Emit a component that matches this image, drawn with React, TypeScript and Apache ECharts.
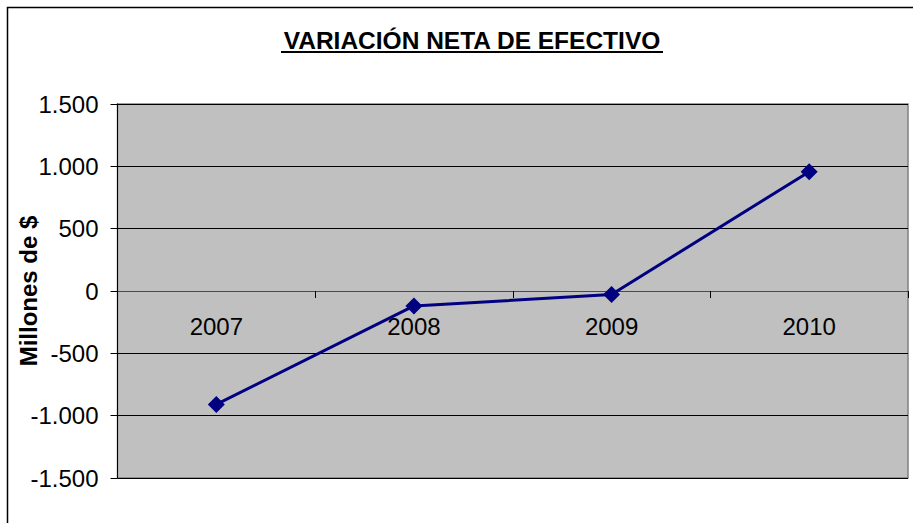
import React, { useEffect, useRef } from "react";
import * as echarts from "echarts";

const categories = ["2007", "2008", "2009", "2010"];
const values = [-910, -120, -28, 957];
const yMin = -1500;
const yMax = 1500;
const yStep = 500;
const titleText = "VARIACIÓN NETA DE EFECTIVO";
const yTitle = "Millones de $";

const fmt = (v: number) => {
  const s = Math.abs(v).toString().replace(/\B(?=(\d{3})+(?!\d))/g, ".");
  return (v < 0 ? "-" : "") + s;
};

const FONT = "'Liberation Sans', Arial, sans-serif";

const GRID_TOP = 104;
const GRID_BOTTOM = 45;
const CHART_H = 523;

export default function App() {
  const ref = useRef<HTMLDivElement>(null);
  useEffect(() => {
    document.body.style.margin = "0";
    const chart = echarts.init(ref.current!, null, { renderer: "svg" });
    const plotH = CHART_H - GRID_TOP - GRID_BOTTOM;
    const zeroOffset = (0 - yMin) / (yMax - yMin) * plotH;
    chart.setOption({
      animation: false,
      backgroundColor: "#ffffff",
      grid: {
        left: 117.5,
        right: 5,
        top: GRID_TOP,
        bottom: GRID_BOTTOM,
        show: true,
        backgroundColor: "#C0C0C0",
        borderColor: "#808080",
        borderWidth: 1.5,
      },
      xAxis: {
        type: "category",
        data: categories,
        boundaryGap: true,
        offset: -zeroOffset,
        axisLine: { onZero: false, lineStyle: { color: "#4a4a4a", width: 1 } },
        axisTick: { show: true, length: 7, lineStyle: { color: "#000", width: 1 } },
        axisLabel: {
          margin: 23,
          fontSize: 24,
          fontFamily: FONT,
          color: "#000",
        },
        splitLine: { show: false },
      },
      yAxis: {
        type: "value",
        min: yMin,
        max: yMax,
        interval: yStep,
        axisLine: { show: true, lineStyle: { color: "#000", width: 1 } },
        axisTick: { show: true, length: 7, lineStyle: { color: "#000" } },
        axisLabel: {
          margin: 19,
          fontSize: 24,
          fontFamily: FONT,
          color: "#000",
          formatter: (v: number) => fmt(v),
        },
        splitLine: { show: true, lineStyle: { color: "#000", width: 1 } },
      },
      graphic: [
        {
          type: "rect",
          shape: { x: 7.5, y: 7.5, width: 930, height: 540 },
          style: { fill: "none", stroke: "#000", lineWidth: 1.5 },
          silent: true,
        },
        {
          type: "text",
          x: 472,
          y: 40,
          style: {
            text: titleText,
            fontSize: 24.5,
            fontWeight: "bold",
            fontFamily: FONT,
            fill: "#000",
            align: "center",
            verticalAlign: "middle",
          },
        },
        {
          type: "line",
          shape: { x1: 281, y1: 52, x2: 663, y2: 52 },
          style: { stroke: "#000", lineWidth: 2 },
        },
        {
          type: "text",
          x: 28,
          y: 291,
          rotation: Math.PI / 2,
          style: {
            text: yTitle,
            fontSize: 24,
            fontWeight: "bold",
            fontFamily: FONT,
            fill: "#000",
            align: "center",
            verticalAlign: "middle",
          },
        },
      ],
      series: [
        {
          type: "line",
          data: values,
          symbol: "diamond",
          symbolSize: 17,
          lineStyle: { color: "#000080", width: 3 },
          itemStyle: { color: "#000080" },
        },
      ],
    });
    return () => chart.dispose();
  }, []);
  return (
    <div
      ref={ref}
      style={{ position: "fixed", left: 0, top: 0, width: 913, height: CHART_H }}
    />
  );
}
